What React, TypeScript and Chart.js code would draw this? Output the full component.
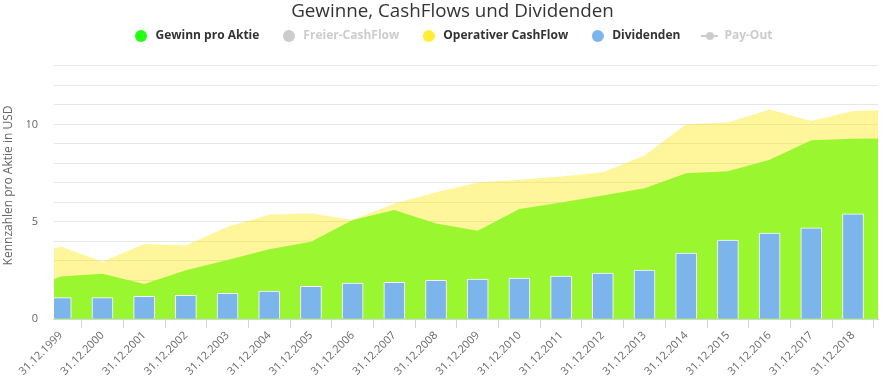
import React, { useEffect, useRef } from "react";
import { Chart, registerables } from "chart.js";

Chart.register(...registerables);

// Years on the x axis (1998 and 2019 lie just outside the visible range)
const years = [1998, 1999, 2000, 2001, 2002, 2003, 2004, 2005, 2006, 2007, 2008, 2009, 2010, 2011, 2012, 2013, 2014, 2015, 2016, 2017, 2018, 2019];
const firstLabelYear = 1999;
const lastLabelYear = 2018;

// Series values (USD per share)
const gewinnProAktie = [1.36, 2.18, 2.32, 1.8, 2.51, 3.03, 3.59, 3.97, 5.09, 5.6, 4.91, 4.54, 5.65, 5.98, 6.34, 6.72, 7.49, 7.59, 8.18, 9.18, 9.26, 9.29];
const operativerCashFlow = [3.1, 3.73, 2.94, 3.85, 3.78, 4.74, 5.36, 5.43, 5.09, 5.94, 6.51, 7.01, 7.15, 7.32, 7.54, 8.4, 10.0, 10.09, 10.76, 10.17, 10.69, 10.74];
const dividenden = [null, 1.1, 1.1, 1.17, 1.22, 1.32, 1.43, 1.68, 1.84, 1.89, 1.99, 2.05, 2.1, 2.2, 2.36, 2.51, 3.39, 4.06, 4.42, 4.68, 5.4, null];
const freierCashFlow: (number | null)[] = [];
const payOut: (number | null)[] = [];

const labelYears = years.filter((y) => y >= firstLabelYear && y <= lastLabelYear);
const tickLabels = labelYears.map((y) => `31.12.${y}`);

const FONT = "'Open Sans', 'DejaVu Sans', sans-serif";

function circleIcon(color: string) {
  const c = document.createElement("canvas");
  c.width = 12;
  c.height = 12;
  const ctx = c.getContext("2d")!;
  ctx.fillStyle = color;
  ctx.beginPath();
  ctx.arc(6, 6, 6, 0, Math.PI * 2);
  ctx.fill();
  return c;
}

function lineIcon(color: string) {
  const c = document.createElement("canvas");
  c.width = 17;
  c.height = 12;
  const ctx = c.getContext("2d")!;
  ctx.strokeStyle = color;
  ctx.lineWidth = 2;
  ctx.beginPath();
  ctx.moveTo(0, 6);
  ctx.lineTo(17, 6);
  ctx.stroke();
  ctx.fillStyle = color;
  ctx.beginPath();
  ctx.arc(8.5, 6, 4, 0, Math.PI * 2);
  ctx.fill();
  return c;
}

const toPoints = (vals: (number | null)[]) =>
  vals
    .map((v, i) => ({ x: years[i] - firstLabelYear, y: v }))
    .filter((p) => p.y !== null && p.y !== undefined);

export default function App() {
  const ref = useRef<HTMLCanvasElement>(null);

  useEffect(() => {
    document.body.style.margin = "0";
    const canvas = ref.current!;
    const legendStyles = [
      { icon: circleIcon("#22ff11"), active: true },
      { icon: circleIcon("#cccccc"), active: false },
      { icon: circleIcon("#ffee33"), active: true },
      { icon: circleIcon("#7cb5ec"), active: true },
      { icon: lineIcon("#cccccc"), active: false },
    ];

    const chart = new Chart(canvas, {
      type: "bar",
      data: {
        datasets: [
          {
            type: "line",
            label: "Gewinn pro Aktie",
            data: toPoints(gewinnProAktie) as any,
            backgroundColor: "#99f62f",
            borderWidth: 0,
            pointRadius: 0,
            fill: "origin",
            order: 2,
          },
          {
            type: "line",
            label: "Freier-CashFlow",
            data: toPoints(freierCashFlow) as any,
            hidden: true,
            pointRadius: 0,
            order: 4,
          },
          {
            type: "line",
            label: "Operativer CashFlow",
            data: toPoints(operativerCashFlow) as any,
            backgroundColor: "rgba(255,230,5,0.4)",
            borderWidth: 0,
            pointRadius: 0,
            fill: "origin",
            order: 3,
          },
          {
            type: "bar",
            label: "Dividenden",
            data: toPoints(dividenden) as any,
            backgroundColor: "#7cb5ec",
            borderColor: "#ffffff",
            borderWidth: 1,
            barThickness: 21,
            order: 1,
          },
          {
            type: "line",
            label: "Pay-Out",
            data: toPoints(payOut) as any,
            hidden: true,
            pointRadius: 0,
            order: 5,
          },
        ],
      },
      options: {
        responsive: false,
        animation: false,
        devicePixelRatio: 1,
        layout: { padding: { left: 27, right: 5, top: 0, bottom: -2 } },
        plugins: {
          tooltip: { enabled: false },
          title: {
            display: true,
            text: "Gewinne, CashFlows und Dividenden",
            color: "#333333",
            font: { family: FONT, size: 18.8, weight: "normal" },
            padding: { top: 0.5, bottom: -14.1 },
          },
          legend: {
            display: true,
            onClick: () => {},
            labels: {
              usePointStyle: true,
              pointStyleWidth: 17,
              padding: 21,
              font: { family: FONT, size: 12, weight: "bold" },
              generateLabels: (ch: any) =>
                ch.data.datasets.map((ds: any, i: number) => ({
                  text: ds.label,
                  fillStyle: "#000",
                  strokeStyle: "#000",
                  lineWidth: 0,
                  hidden: false,
                  pointStyle: legendStyles[i].icon,
                  datasetIndex: i,
                  fontColor: legendStyles[i].active ? "#333333" : "#cccccc",
                })),
            },
          },
        },
        scales: {
          x: {
            type: "linear",
            min: -0.163,
            max: 19.6,
            offset: false,
            afterBuildTicks: (scale: any) => {
              scale.ticks = tickLabels.map((_, i) => ({ value: i }));
            },
            grid: {
              offset: true,
              drawOnChartArea: false,
              drawTicks: true,
              tickLength: 9,
              color: "#ccd6eb",
            },
            border: { display: true, color: "#ccd6eb" },
            ticks: {
              autoSkip: false,
              maxRotation: 45,
              minRotation: 45,
              padding: 1,
              color: "#666666",
              font: { family: FONT, size: 11 },
              callback: (v: any) => tickLabels[Math.round(Number(v))] ?? "",
            },
          },
          y: {
            type: "linear",
            min: 0,
            max: 13.72,
            afterBuildTicks: (scale: any) => {
              scale.ticks = scale.ticks.filter((t: any) => Number.isInteger(t.value));
            },
            grid: { color: "#e6e6e6", drawTicks: false },
            border: { display: false },
            ticks: {
              stepSize: 1,
              padding: 16,
              color: "#666666",
              font: { family: FONT, size: 11 },
              callback: (v: any) => (Number(v) % 5 === 0 ? String(v) : ""),
            },
            title: {
              display: true,
              text: "Kennzahlen pro Aktie in USD",
              color: "#666666",
              font: { family: FONT, size: 12 },
              padding: { top: -25.2, bottom: -6.8 },
            },
          },
        },
      },
    });
    return () => chart.destroy();
  }, []);

  return (
    <div style={{ width: 883, height: 377 }}>
      <canvas ref={ref} width={883} height={377} style={{ display: "block" }} />
    </div>
  );
}
